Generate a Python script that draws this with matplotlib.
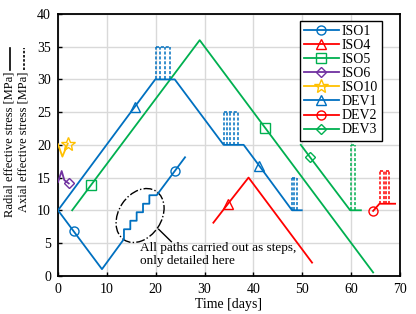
"""Stress paths of the ISO / DEV test series over time."""

import matplotlib.pyplot as plt
from matplotlib.lines import Line2D
from matplotlib.patches import Ellipse
from matplotlib.transforms import ScaledTranslation

plt.rcParams["font.family"] = ["Liberation Serif", "DejaVu Serif"]
plt.rcParams["font.size"] = 9.5

BLUE = "#0070C0"
RED = "#FF0000"
GREEN = "#00B050"
PURPLE = "#7030A0"
YELLOW = "#FFC000"

# radial stress paths (days, MPa)
iso1_t = [0, 3.2, 9, 13.5, 13.5, 14.8, 14.8, 16.1, 16.1, 17.4, 17.4, 18.7, 18.7, 20.2, 23.9, 26]
iso1_s = [10, 6.8, 1, 5.6, 7.1, 7.1, 8.4, 8.4, 9.7, 9.7, 11.0, 11.0, 12.3, 12.3, 16.0, 18.1]
iso1_marks = [1, 14]

iso4_t = [31.8, 34.8, 39, 52]
iso4_s = [8.1, 11.0, 15, 2]
iso4_marks = [1]

iso5_t = [2.9, 6.7, 29, 42.4, 64.5]
iso5_s = [10, 13.8, 36, 22.6, 0.5]
iso5_marks = [1, 3]

iso6_t = [0, 0.75, 1.3, 2.2]
iso6_s = [14.3, 16.0, 14.6, 14.1]
iso6_marks = [3]

iso10_t = [0, 0.9, 2.0]
iso10_s = [20.1, 18.2, 20.2]
iso10_marks = [2]

dev1_t = [0, 15.7, 19.9, 23.9, 33.9, 38, 41.2, 47.9, 49.9]
dev1_s = [10, 25.8, 30, 30, 20, 20, 16.8, 10, 10]
dev1_marks = [1, 6]

dev2_t = [64.5, 65.8, 69]
dev2_s = [9.9, 11, 11]
dev2_marks = [0]

dev3_t = [49.7, 51.6, 59.8, 62]
dev3_s = [20, 18.1, 10, 10]
dev3_marks = [1]

# axial stress cycles: vertical positions, base, top, top spans
axial_groups = [
    (BLUE, [20.0, 20.9, 21.8, 23.0], 30, 35, [(20.0, 23.0)]),
    (BLUE, [33.9, 34.6, 35.3, 36.0, 36.8], 20, 25, [(33.9, 36.8)]),
    (BLUE, [47.9, 48.4, 48.9], 10, 15, [(47.9, 48.9)]),
    (GREEN, [59.9, 60.8], 10, 20, [(59.9, 60.8)]),
    (RED, [65.9, 66.7, 67.2, 67.8], 11, 16, [(65.9, 66.7), (67.2, 67.8)]),
]

series = [
    ("ISO1", iso1_t, iso1_s, iso1_marks, BLUE, "o"),
    ("ISO4", iso4_t, iso4_s, iso4_marks, RED, "^"),
    ("ISO5", iso5_t, iso5_s, iso5_marks, GREEN, "s"),
    ("ISO6", iso6_t, iso6_s, iso6_marks, PURPLE, "D"),
    ("ISO10", iso10_t, iso10_s, iso10_marks, YELLOW, "*"),
    ("DEV1", dev1_t, dev1_s, dev1_marks, BLUE, "^"),
    ("DEV2", dev2_t, dev2_s, dev2_marks, RED, "o"),
    ("DEV3", dev3_t, dev3_s, dev3_marks, GREEN, "D"),
]

marker_sizes = {"o": 6.5, "^": 7.5, "s": 6.5, "D": 5.5, "*": 10}

fig = plt.figure(figsize=(4.16, 3.14), dpi=100)
ax = fig.add_axes([58 / 416, 1 - 275.7 / 314, 342 / 416, 261.7 / 314])

for color, xs, lo, hi, spans in axial_groups:
    ax.vlines(xs, lo, hi, colors=color, linestyles=(0, (2, 1.2)), lw=1.1, zorder=2)
    for a, b in spans:
        ax.hlines(hi, a, b, colors=color, linestyles=(0, (2, 1.2)), lw=1.1, zorder=2)

for name, t, s, marks, color, mk in series:
    ax.plot(t, s, color=color, lw=1.3, marker=mk, markevery=marks,
            markersize=marker_sizes[mk], markerfacecolor="none",
            markeredgewidth=1.0, label=name, zorder=3)

# highlight of the stepped loading
ell = Ellipse((0, 0), width=0.582, height=0.428, angle=56.5, fill=False,
              edgecolor="black", lw=1.0, linestyle="-.",
              transform=fig.dpi_scale_trans + ScaledTranslation(16.8, 9.2, ax.transData))
ax.add_patch(ell)
ax.plot([20.6, 23.2], [7.1, 5.2], color="black", lw=1.0)
ax.text(16.8, 5.1, "All paths carried out as steps,\nonly detailed here",
        ha="left", va="top", linespacing=1.05)

ax.set_xlim(0, 70)
ax.set_ylim(0, 40)
ax.set_xticks(range(0, 71, 10))
ax.set_yticks(range(0, 41, 5))
ax.grid(True, color="#d9d9d9", lw=1.0)
ax.set_axisbelow(True)
ax.tick_params(direction="in", length=3, width=1.0, pad=5, labelsize=10)
for sp in ax.spines.values():
    sp.set_linewidth(1.3)
    sp.set_color("black")
ax.set_xlabel("Time [days]", labelpad=2, fontsize=10)

leg = ax.legend(loc="upper right", bbox_to_anchor=(0.947, 0.975), fancybox=False,
                framealpha=1, edgecolor="black", borderpad=0.3, labelspacing=0.08,
                handlelength=2.5, handletextpad=0.2, borderaxespad=0, fontsize=10)
leg.get_frame().set_linewidth(1.0)

# two-line y label with line-style keys
fig.text(10 / 416, 1 - 72 / 314, "Radial effective stress [MPa]", rotation=90,
         ha="center", va="top", fontsize=9)
fig.text(24 / 416, 1 - 72 / 314, "Axial effective stress [MPa]", rotation=90,
         ha="center", va="top", fontsize=9)
fig.add_artist(Line2D([10 / 416, 10 / 416], [1 - 70 / 314, 1 - 48 / 314],
                      color="black", lw=1.2, transform=fig.transFigure))
fig.add_artist(Line2D([24 / 416, 24 / 416], [1 - 70 / 314, 1 - 48 / 314],
                      color="black", lw=1.2, linestyle=(0, (1.5, 1)),
                      transform=fig.transFigure))

fig.savefig("out.png", dpi=100)
plt.close(fig)
